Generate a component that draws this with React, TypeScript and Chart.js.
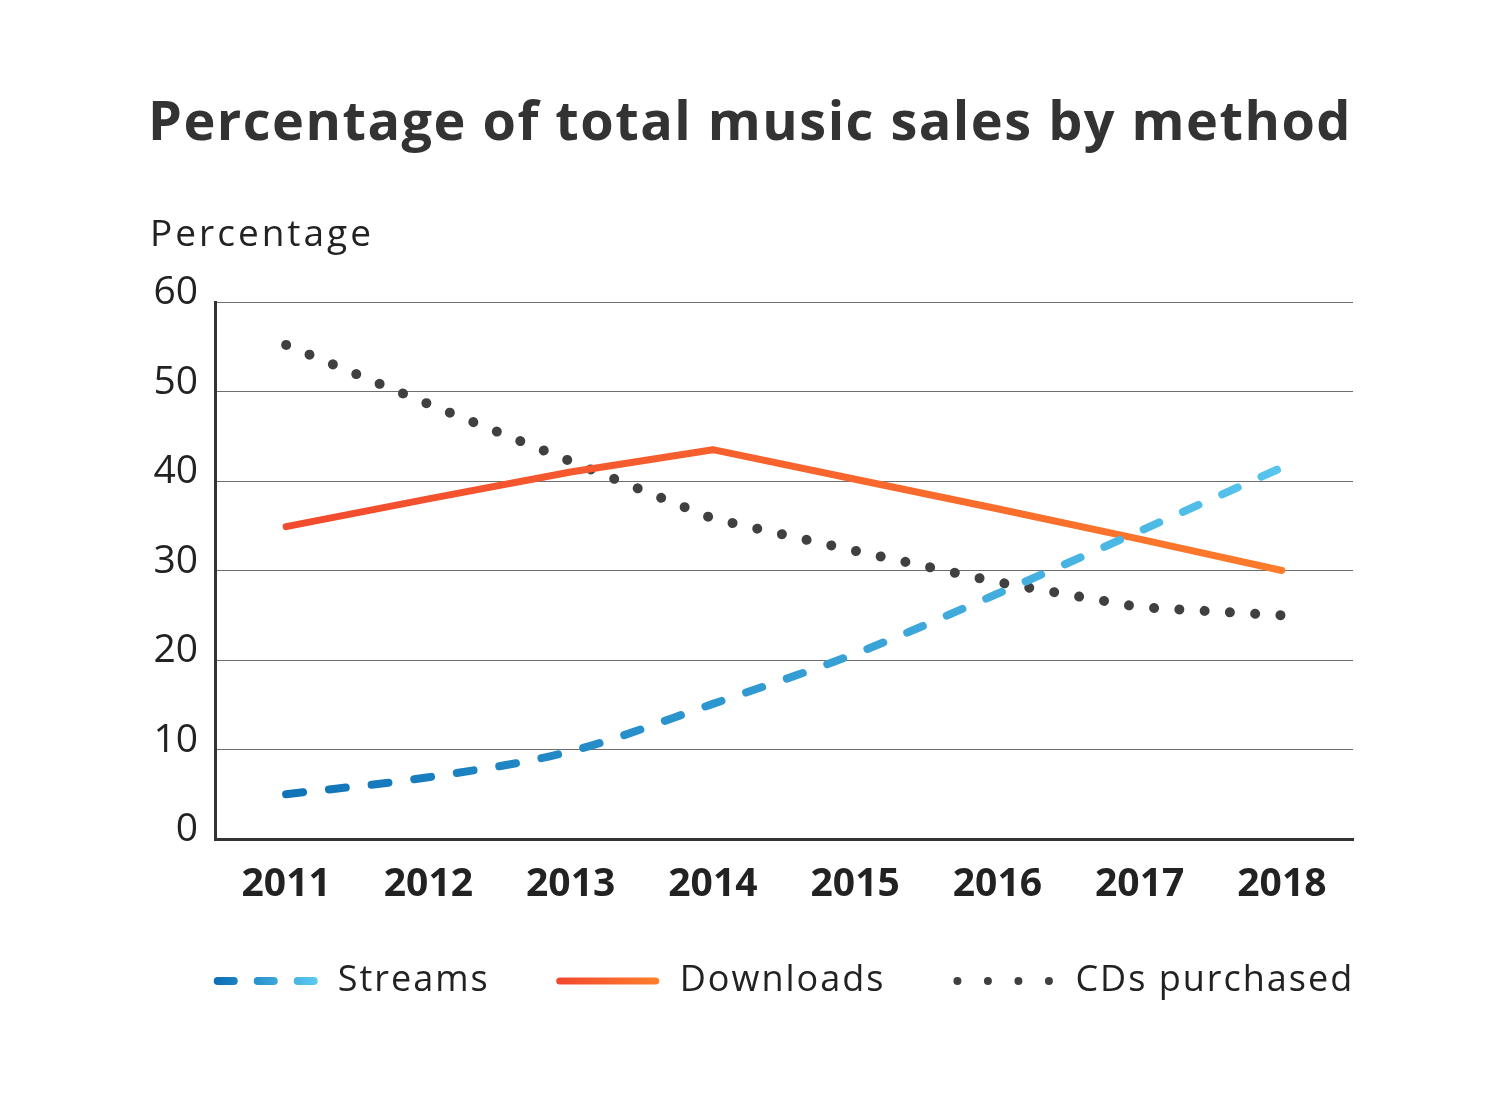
import React, { useEffect, useRef } from 'react';
import { Chart, registerables } from 'chart.js';

Chart.register(...registerables);

const TITLE = 'Percentage of total music sales by method';
const Y_TITLE = 'Percentage';
const years = ['2011', '2012', '2013', '2014', '2015', '2016', '2017', '2018'];
const streams = [5, 6.9, 9.8, 15.1, 20.7, 27.4, 34.4, 41.5];
const downloads = [34.9, 38, 41, 43.5, 40.2, 36.9, 33.5, 30];
const cds = [55.2, 48.6, 42.2, 35.8, 32.2, 28.7, 25.9, 25.0];
const seriesLabels = ['Streams', 'Downloads', 'CDs purchased'];
const yMin = 0;
const yMax = 60;
const yStep = 10;

const FONT = '"Open Sans", sans-serif';
const STREAM_COLORS = ['#0a6db4', '#5ccbf1'];
const DOWNLOAD_COLORS = ['#f1472f', '#fe7f2b'];
const CD_COLOR = '#404040';
const TEXT = '#222222';

function hGrad(chart: any, c0: string, c1: string, x0?: number, x1?: number) {
  const area = chart.chartArea;
  if (!area) return c0;
  const a = x0 ?? area.left;
  const b = x1 ?? area.right;
  const g = chart.ctx.createLinearGradient(a, 0, b, 0);
  g.addColorStop(0, c0);
  g.addColorStop(1, c1);
  return g;
}

const decorPlugin = {
  id: 'decor',
  afterDraw(chart: any) {
    const { ctx, chartArea } = chart;
    ctx.save();
    // Title
    ctx.fillStyle = '#333333';
    ctx.font = `700 54px ${FONT}`;
    ctx.letterSpacing = '1.5px';
    ctx.textAlign = 'center';
    ctx.textBaseline = 'middle';
    ctx.fillText(TITLE, chart.width / 2, 125);
    // Y axis title
    ctx.fillStyle = TEXT;
    ctx.font = `400 37px ${FONT}`;
    ctx.letterSpacing = '3px';
    ctx.textAlign = 'left';
    ctx.fillText(Y_TITLE, chartArea.left - 65, chartArea.top - 67);

    // Legend
    const sampleW = 104;
    const gapText = 20;
    const gapItem = 66;
    ctx.font = `400 36px ${FONT}`;
    ctx.letterSpacing = '2px';
    const widths = seriesLabels.map((l) => ctx.measureText(l).width);
    const total = widths.reduce((s, w) => s + sampleW + gapText + w, 0) + gapItem * (seriesLabels.length - 1);
    let x = (chartArea.left + chartArea.right) / 2 - total / 2;
    const y = chartArea.bottom + 142;
    seriesLabels.forEach((label, i) => {
      ctx.save();
      ctx.lineCap = 'round';
      if (i === 0) {
        ctx.strokeStyle = hGrad(chart, STREAM_COLORS[0], STREAM_COLORS[1], x, x + sampleW);
        ctx.lineWidth = 8;
        ctx.setLineDash([16, 24]);
        ctx.beginPath();
        ctx.moveTo(x + 4, y);
        ctx.lineTo(x + sampleW, y);
        ctx.stroke();
      } else if (i === 1) {
        ctx.strokeStyle = hGrad(chart, DOWNLOAD_COLORS[0], DOWNLOAD_COLORS[1], x, x + sampleW);
        ctx.lineWidth = 7;
        ctx.beginPath();
        ctx.moveTo(x + 4, y);
        ctx.lineTo(x + sampleW - 4, y);
        ctx.stroke();
      } else {
        ctx.fillStyle = CD_COLOR;
        for (let k = 0; k < 4; k++) {
          ctx.beginPath();
          ctx.arc(x + 6 + k * 30.5, y, 4, 0, Math.PI * 2);
          ctx.fill();
        }
      }
      ctx.restore();
      ctx.fillStyle = TEXT;
      ctx.textAlign = 'left';
      ctx.textBaseline = 'middle';
      ctx.fillText(label, x + sampleW + gapText, y);
      x += sampleW + gapText + widths[i] + gapItem;
    });
    ctx.restore();
  },
};

export default function App() {
  const ref = useRef<HTMLCanvasElement>(null);
  useEffect(() => {
    if (!ref.current) return;
    const chart = new Chart(ref.current, {
      type: 'line',
      data: {
        labels: years,
        datasets: [
          {
            label: seriesLabels[0],
            data: streams,
            borderColor: (c: any) => hGrad(c.chart, STREAM_COLORS[0], STREAM_COLORS[1]),
            borderWidth: 8,
            borderDash: [17, 26],
            borderCapStyle: 'round',
            cubicInterpolationMode: 'monotone',
            pointRadius: 0,
            fill: false,
          },
          {
            label: seriesLabels[1],
            data: downloads,
            borderColor: (c: any) => hGrad(c.chart, DOWNLOAD_COLORS[0], DOWNLOAD_COLORS[1]),
            borderWidth: 7,
            borderCapStyle: 'round',
            borderJoinStyle: 'round',
            tension: 0,
            pointRadius: 0,
            fill: false,
          },
          {
            label: seriesLabels[2],
            data: cds,
            borderColor: CD_COLOR,
            borderWidth: 10,
            borderDash: [0.01, 25.3],
            borderCapStyle: 'round',
            tension: 0,
            pointRadius: 0,
            fill: false,
          },
        ],
      } as any,
      options: {
        responsive: false,
        animation: false,
        devicePixelRatio: 1,
        layout: { padding: { top: 302, right: 147, bottom: 145, left: 0 } },
        plugins: {
          legend: { display: false },
          title: { display: false },
          tooltip: { enabled: false },
        },
        scales: {
          x: {
            type: 'category',
            offset: true,
            grid: { display: false, drawTicks: false },
            border: { display: true, color: '#333333', width: 3 },
            ticks: {
              color: TEXT,
              padding: 22,
              font: { family: FONT, size: 39, weight: 'bold' },
            },
            afterFit: (s: any) => {
              s.height = 110;
            },
          },
          y: {
            min: yMin,
            max: yMax,
            grid: { color: '#6e6e6e', lineWidth: 1, drawTicks: false },
            border: { display: true, color: '#333333', width: 3 },
            ticks: {
              stepSize: yStep,
              color: TEXT,
              padding: 17,
              labelOffset: -9,
              font: { family: FONT, size: 39, weight: 'normal' },
            },
            afterFit: (s: any) => {
              s.width = 215;
            },
          },
        },
      } as any,
      plugins: [decorPlugin],
    });
    return () => chart.destroy();
  }, []);
  return (
    <div style={{ position: 'absolute', left: 0, top: 0, width: 1500, height: 1094, background: '#ffffff' }}>
      <canvas ref={ref} width={1500} height={1094} />
    </div>
  );
}
